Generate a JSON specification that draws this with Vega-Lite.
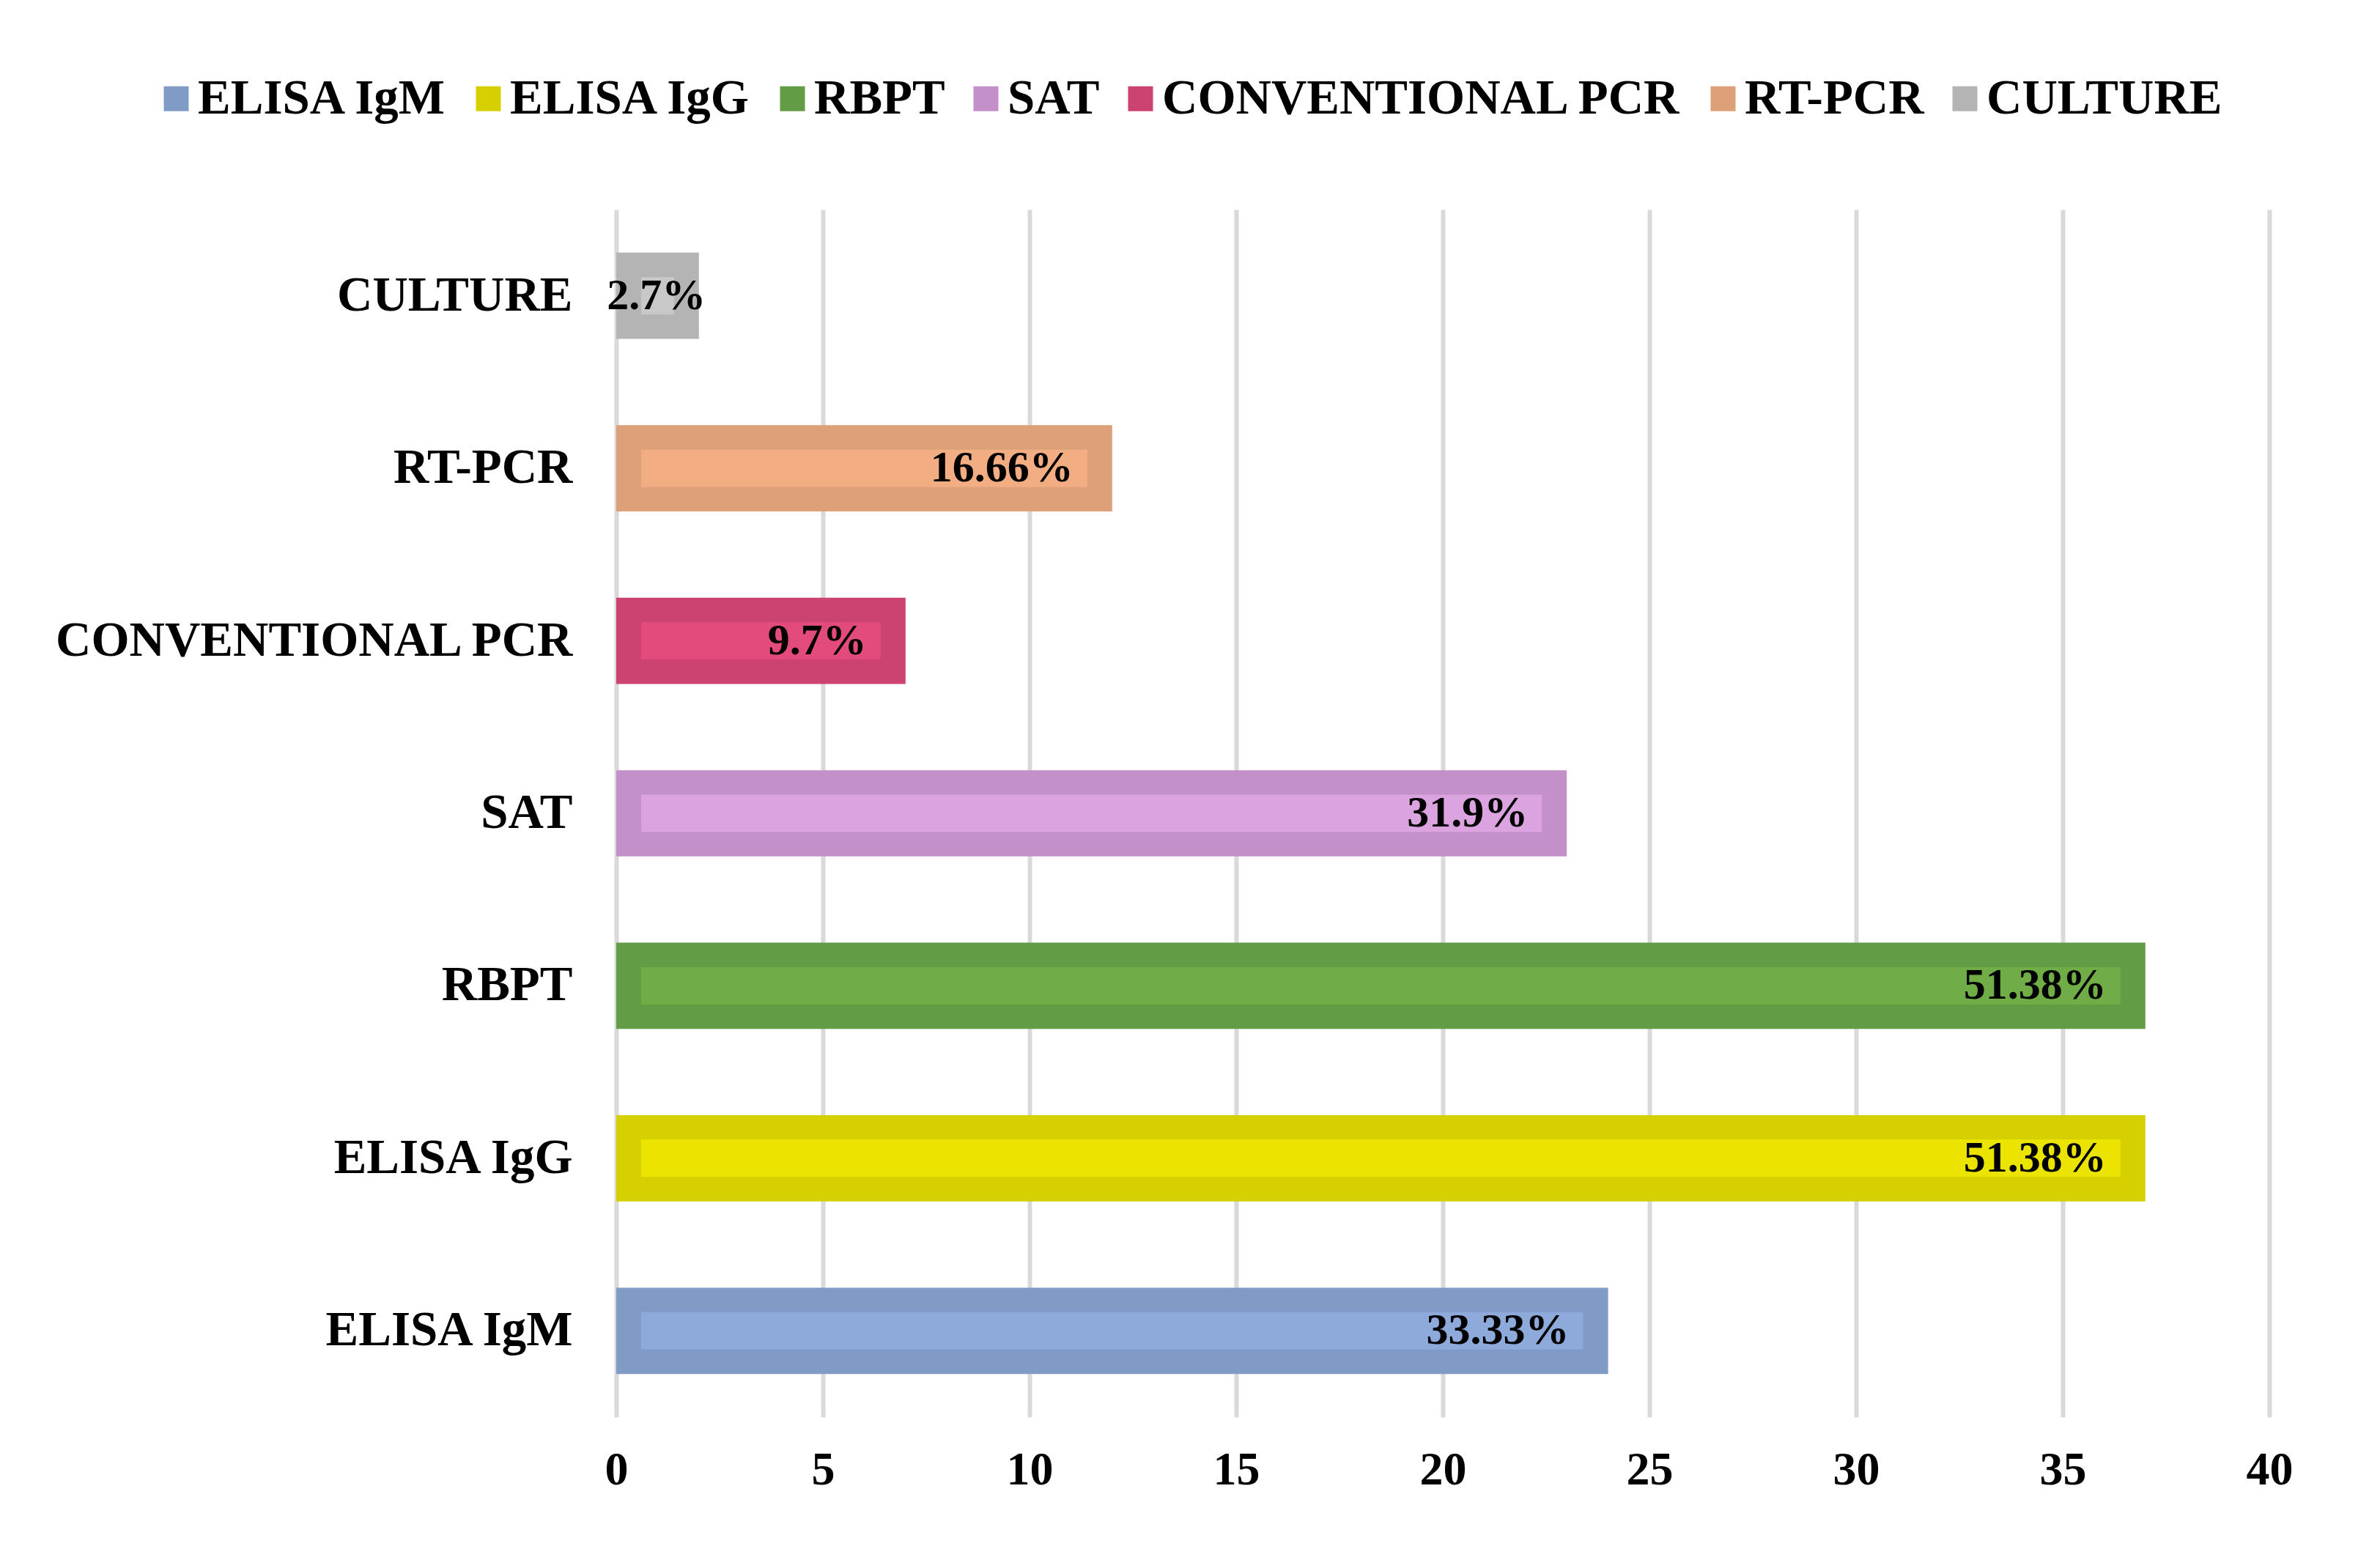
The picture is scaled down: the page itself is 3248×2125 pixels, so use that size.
{
  "$schema": "https://vega.github.io/schema/vega-lite/v6.json",
  "autosize": {"type": "none"},
  "padding": {"left": 841, "top": 286, "right": 151, "bottom": 191},
  "width": 2256,
  "height": 1648,
  "background": "white",
  "config": {
    "font": "Liberation Serif",
    "view": {"stroke": null},
    "axis": {
      "labelFont": "Liberation Serif",
      "labelFontWeight": "bold",
      "labelColor": "#000000",
      "labelLimit": 1000,
      "ticks": false,
      "domain": false,
      "title": null
    },
    "legend": {
      "labelFont": "Liberation Serif",
      "labelFontWeight": "bold",
      "labelFontSize": 67,
      "labelColor": "#000000",
      "title": null
    }
  },
  "data": {
    "values": [
      {"test": "ELISA IgM", "count": 24, "label": "33.33%"},
      {"test": "ELISA IgG", "count": 37, "label": "51.38%"},
      {"test": "RBPT", "count": 37, "label": "51.38%"},
      {"test": "SAT", "count": 23, "label": "31.9%"},
      {"test": "CONVENTIONAL PCR", "count": 7, "label": "9.7%"},
      {"test": "RT-PCR", "count": 12, "label": "16.66%"},
      {"test": "CULTURE", "count": 2, "label": "2.7%"}
    ]
  },
  "encoding": {
    "y": {
      "field": "test",
      "type": "nominal",
      "sort": ["CULTURE", "RT-PCR", "CONVENTIONAL PCR", "SAT", "RBPT", "ELISA IgG", "ELISA IgM"],
      "scale": {"paddingInner": 0.5, "paddingOuter": 0.25},
      "axis": {"labelFontSize": 67, "labelPadding": 60, "grid": false}
    },
    "x": {
      "field": "count",
      "type": "quantitative",
      "scale": {"domain": [0, 40]},
      "axis": {
        "values": [0, 5, 10, 15, 20, 25, 30, 35, 40],
        "labelFontSize": 64,
        "labelPadding": 40,
        "labelFlush": false,
        "grid": true,
        "gridColor": "#d9d9d9",
        "gridWidth": 6
      }
    }
  },
  "layer": [
    {
      "mark": {"type": "bar"},
      "encoding": {
        "color": {
          "field": "test",
          "type": "nominal",
          "scale": {
            "domain": ["ELISA IgM", "ELISA IgG", "RBPT", "SAT", "CONVENTIONAL PCR", "RT-PCR", "CULTURE"],
            "range": ["#819bc7", "#d6d000", "#629c44", "#c490c9", "#cc4271", "#dea078", "#b4b4b4"]
          },
          "legend": {
            "orient": "none",
            "direction": "horizontal",
            "columns": 7,
            "legendX": -634,
            "legendY": -185,
            "symbolType": "square",
            "symbolSize": 1156,
            "symbolStrokeWidth": 0,
            "labelOffset": -4,
            "columnPadding": 22,
            "labelLimit": 1000
          }
        }
      }
    },
    {
      "mark": {"type": "bar", "height": 51, "xOffset": -34, "x2Offset": 34},
      "encoding": {
        "x2": {"datum": 0},
        "color": {
          "field": "test",
          "type": "nominal",
          "scale": {
            "domain": ["ELISA IgM", "ELISA IgG", "RBPT", "SAT", "CONVENTIONAL PCR", "RT-PCR", "CULTURE"],
            "range": ["#8eaadb", "#ebe400", "#70ad47", "#dba3df", "#e24b7c", "#f2ae82", "#c8c8c8"]
          },
          "legend": null
        }
      }
    },
    {
      "transform": [{"filter": "datum.count >= 5"}],
      "mark": {"type": "text", "align": "right", "dx": -53, "fontSize": 60, "fontWeight": "bold", "color": "#000000"},
      "encoding": {"text": {"field": "label"}}
    },
    {
      "transform": [{"filter": "datum.count < 5"}],
      "mark": {"type": "text", "align": "center", "dx": -58, "fontSize": 60, "fontWeight": "bold", "color": "#000000"},
      "encoding": {"text": {"field": "label"}}
    }
  ],
  "resolve": {"scale": {"color": "independent"}}
}
